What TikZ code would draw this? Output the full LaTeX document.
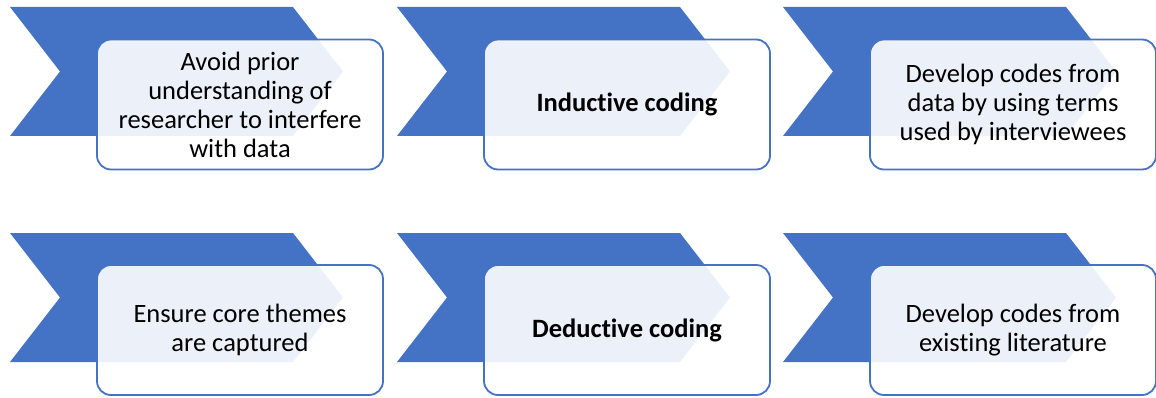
\documentclass[tikz,border=0pt]{standalone}
\usepackage{fontspec}
\setmainfont{Carlito}[Ligatures=CommonOff]
\definecolor{cblue}{HTML}{4472C4}
\begin{document}
\begin{tikzpicture}[x=1pt,y=-1pt,
  chev/.style={fill=cblue, draw=none},
  card/.style={draw=cblue, line width=1.8pt, rounded corners=14pt, fill=white, fill opacity=0.9, text opacity=1,
    minimum width=286pt, minimum height=130pt, align=center, inner sep=0pt,
    font=\fontsize{26.5}{29}\selectfont}]
\useasboundingbox (0,0) rectangle (1156,398);
\foreach \cx/\cy in {10/7, 397/7, 783/7, 10/233, 397/233, 783/233}{
  \fill[chev] (\cx,\cy) -- ({\cx+283},\cy) -- ({\cx+333},{\cy+64.5}) -- ({\cx+283},{\cy+129}) -- (\cx,{\cy+129}) -- ({\cx+50},{\cy+64.5}) -- cycle;
}
\node[card] (c1) at (240,104.5) {Avoid prior\\understanding of\\researcher to interfere\\with data};
\node[card] (c2) at (627,104.5) {\textbf{Inductive coding}};
\node[card] (c3) at (1013,104.5) {Develop codes from\\data by using terms\\used by interviewees};
\node[card] (c4) at (240,330) {Ensure core themes\\are captured};
\node[card] (c5) at (627,330) {\textbf{Deductive coding}};
\node[card] (c6) at (1013,330) {Develop codes from\\existing literature};
\end{tikzpicture}
\end{document}
